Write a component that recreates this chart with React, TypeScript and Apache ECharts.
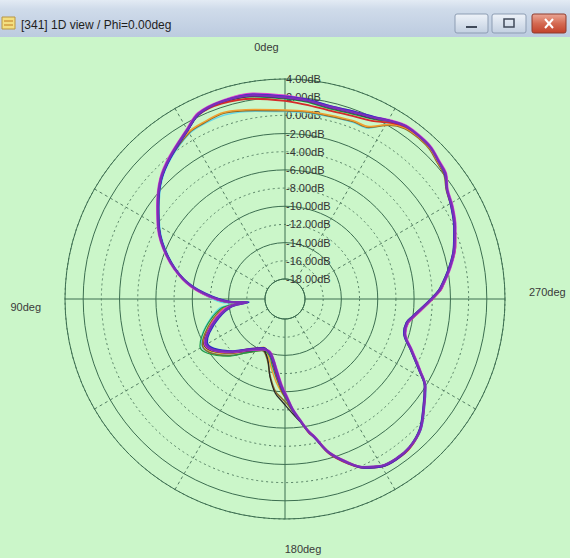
import React, { useEffect, useRef } from 'react';
import * as echarts from 'echarts';

const TITLE = '[341] 1D view / Phi=0.00deg';
const DB_MIN = -18;
const DB_MAX = 4;
const DB_STEP = 2;
const ANGLE_STEP = 30;
const ANGLE_LABELS = [0, 90, 180, 270];

const ANGLES = [0, 9, 18, 25, 30, 39, 46, 54, 61, 70, 79, 86, 93, 95, 98, 106, 114, 119, 125, 135, 145, 156, 164, 169, 174, 178, 181, 184, 187, 190, 192, 196, 201, 205, 210, 215, 220, 226, 232, 238, 242, 248, 254, 259, 262, 268, 272, 274, 281, 287, 293, 299, 304, 308, 312, 316, 320, 325, 329, 334, 339, 347, 354, 360];

const PURPLE = [2.0, 2.5, 2.6, 2.3, 1.3, -0.1, -1.2, -2.9, -4.3, -6.4, -8.8, -11.2, -14.1, -16.0, -14.1, -12.4, -10.9, -10.2, -10.5, -12.0, -13.4, -14.2, -14.1, -13.4, -12.0, -10.5, -9.4, -8.0, -6.8, -5.4, -4.7, -2.6, -0.9, 0.2, 1.0, 1.2, 1.1, 0.5, -0.8, -2.0, -3.4, -5.2, -6.5, -6.5, -6.0, -4.6, -3.5, -3.0, -1.7, -0.7, 0.1, 0.8, 1.3, 2.2, 2.5, 2.9, 3.0, 3.0, 2.6, 2.0, 1.7, 1.5, 1.8, 2.0];
const BLUE = [2.1, 2.6, 2.6, 2.2, 1.2, -0.2, -1.3, -3.0, -4.4, -6.5, -8.9, -11.4, -14.3, -16.2, -14.3, -12.6, -11.1, -10.4, -10.7, -12.1, -13.5, -14.3, -14.0, -13.2, -11.8, -10.3, -9.3, -7.9, -6.7, -5.4, -4.6, -2.6, -0.9, 0.3, 1.1, 1.3, 1.1, 0.4, -0.9, -2.1, -3.5, -5.3, -6.6, -6.6, -6.1, -4.7, -3.6, -3.1, -1.8, -0.8, 0.0, 0.7, 1.3, 2.1, 2.5, 2.9, 3.0, 3.0, 2.6, 2.1, 1.8, 1.6, 1.9, 2.1];
const MAGENTA = [2.2, 2.7, 2.7, 2.4, 1.4, 0.0, -1.1, -2.8, -4.2, -6.3, -8.7, -11.0, -13.9, -15.6, -13.8, -12.2, -10.8, -10.1, -10.4, -11.9, -13.3, -14.1, -14.2, -13.5, -12.2, -10.7, -9.6, -8.1, -6.9, -5.5, -4.8, -2.7, -1.0, 0.2, 1.0, 1.2, 1.1, 0.5, -0.8, -2.0, -3.3, -5.1, -6.4, -6.4, -5.9, -4.5, -3.4, -2.9, -1.6, -0.6, 0.2, 0.9, 1.4, 2.3, 2.6, 3.0, 3.1, 3.1, 2.7, 2.1, 1.8, 1.6, 1.9, 2.2];
const RED = [1.6, 2.1, 2.4, 2.2, 1.3, -0.1, -1.2, -2.9, -4.3, -6.4, -8.8, -11.1, -14.0, -15.8, -14.0, -12.4, -10.9, -10.2, -10.5, -12.0, -13.5, -14.3, -14.0, -13.1, -11.6, -10.2, -9.2, -7.9, -6.7, -5.3, -4.6, -2.5, -0.8, 0.3, 1.1, 1.3, 1.2, 0.5, -0.8, -2.0, -3.4, -5.2, -6.5, -6.4, -5.9, -4.5, -3.4, -2.9, -1.7, -0.6, 0.1, 0.8, 1.3, 2.2, 2.5, 2.9, 3.0, 2.9, 2.4, 1.6, 1.3, 1.1, 1.3, 1.6];
const ORANGE = [0.6, 0.9, 1.4, 1.2, 1.0, -0.1, -1.2, -2.9, -4.3, -6.4, -8.7, -11.0, -13.8, -15.4, -13.6, -12.1, -10.7, -10.0, -10.2, -11.7, -13.3, -14.4, -13.6, -12.4, -11.0, -9.9, -9.1, -7.9, -6.8, -5.4, -4.7, -2.6, -0.9, 0.2, 1.0, 1.2, 1.1, 0.5, -0.8, -2.0, -3.4, -5.2, -6.5, -6.5, -6.0, -4.6, -3.5, -3.0, -1.7, -0.7, 0.1, 0.8, 1.3, 2.1, 2.4, 2.8, 2.9, 2.8, 2.2, 0.9, 0.8, 0.6, 0.6, 0.6];
const OLIVE = [0.5, 0.8, 1.3, 1.1, 0.9, -0.2, -1.3, -3.0, -4.4, -6.5, -8.8, -11.2, -14.0, -15.2, -13.4, -11.9, -10.5, -9.8, -10.0, -11.4, -13.0, -14.0, -13.2, -11.6, -10.0, -9.3, -8.7, -7.8, -6.8, -5.5, -4.8, -2.7, -1.0, 0.2, 1.0, 1.2, 1.1, 0.4, -0.9, -2.1, -3.5, -5.3, -6.6, -6.6, -6.1, -4.7, -3.6, -3.1, -1.8, -0.8, 0.0, 0.7, 1.2, 2.0, 2.3, 2.7, 2.8, 2.7, 2.1, 0.8, 0.7, 0.5, 0.5, 0.5];
const CYAN = [0.4, 0.7, 1.1, 1.0, 0.8, -0.3, -1.4, -3.1, -4.5, -6.6, -8.8, -11.0, -13.2, -14.6, -12.9, -11.5, -10.2, -9.7, -10.0, -11.5, -13.2, -14.0, -13.5, -12.6, -11.3, -10.1, -9.2, -7.9, -6.7, -5.3, -4.6, -2.5, -0.8, 0.3, 1.1, 1.3, 1.2, 0.6, -0.7, -1.9, -3.3, -5.1, -6.4, -6.4, -5.9, -4.5, -3.4, -2.9, -1.6, -0.6, 0.2, 0.9, 1.4, 2.2, 2.6, 3.0, 3.1, 3.0, 2.3, 0.7, 0.6, 0.4, 0.4, 0.4];
const GREEN = [1.8, 2.3, 2.5, 2.2, 1.2, -0.2, -1.3, -3.0, -4.4, -6.5, -8.8, -11.1, -13.6, -15.0, -13.2, -11.6, -10.2, -9.5, -9.8, -11.3, -13.0, -14.0, -13.8, -12.8, -11.4, -10.0, -9.0, -7.8, -6.7, -5.4, -4.7, -2.6, -0.9, 0.2, 1.0, 1.2, 1.1, 0.5, -0.8, -2.0, -3.4, -5.2, -6.5, -6.5, -6.0, -4.6, -3.5, -3.0, -1.7, -0.7, 0.1, 0.8, 1.3, 2.2, 2.5, 2.9, 3.0, 3.0, 2.5, 1.8, 1.5, 1.3, 1.6, 1.8];
const BLACK = [1.9, 2.4, 2.5, 2.2, 1.2, -0.1, -1.2, -2.9, -4.3, -6.4, -8.8, -11.2, -14.0, -15.6, -13.8, -12.2, -10.7, -10.0, -10.3, -11.8, -13.2, -14.1, -13.3, -11.5, -9.8, -9.0, -8.3, -7.5, -6.6, -5.4, -4.7, -2.6, -0.9, 0.2, 1.0, 1.2, 1.1, 0.5, -0.8, -2.0, -3.4, -5.2, -6.5, -6.5, -6.0, -4.6, -3.5, -3.0, -1.7, -0.7, 0.1, 0.8, 1.3, 2.2, 2.5, 2.9, 3.0, 3.0, 2.6, 1.9, 1.6, 1.4, 1.7, 1.9];

const SERIES = [
  { name: 'cyan', values: CYAN, color: '#5fd8ee', width: 1.2 },
  { name: 'olive', values: OLIVE, color: '#8a6b2c', width: 1.5 },
  { name: 'orange', values: ORANGE, color: '#f0a030', width: 1.5 },
  { name: 'green', values: GREEN, color: '#1f9a4a', width: 1.2 },
  { name: 'black', values: BLACK, color: '#262626', width: 1.2 },
  { name: 'red', values: RED, color: '#d42a2a', width: 1.8 },
  { name: 'magenta', values: MAGENTA, color: '#e040d0', width: 1.8 },
  { name: 'blue', values: BLUE, color: '#2b2bc8', width: 1.8 },
  { name: 'purple', values: PURPLE, color: '#7a2fb8', width: 2.4 },
];

const BG = '#cbf6c9';
const GRID = '#3c6e50';
const GRID_DASH = '#557f63';
const FONT = 'Liberation Sans, Arial, sans-serif';

export default function App() {
  const ref = useRef<HTMLDivElement>(null);
  useEffect(() => {
    if (!ref.current) return;
    const chart = echarts.init(ref.current, null, { renderer: 'svg' });
    const polarBox = { center: [285, 299], radius: [20, 220] };
    const angleBase = {
      type: 'value', min: 0, max: 360, interval: ANGLE_STEP, startAngle: 90, clockwise: false,
      axisTick: { show: false },
    };
    const radiusBase = {
      type: 'value', min: DB_MIN, max: DB_MAX, interval: DB_STEP,
      axisLine: { show: false }, axisTick: { show: false },
    };
    const option: any = {
      animation: false,
      backgroundColor: BG,
      polar: [polarBox, polarBox],
      angleAxis: [
        {
          ...angleBase, polarIndex: 0,
          axisLine: { show: true, lineStyle: { color: GRID, width: 1 } },
          axisLabel: {
            show: true, margin: 24, color: '#3a3a3a', fontSize: 11, fontFamily: FONT,
            formatter: (v: number) => (ANGLE_LABELS.indexOf(v) >= 0 ? `{a${v}|${v}deg}` : ''),
            rich: {
              a0: { fontSize: 11, fontFamily: FONT, color: '#3a3a3a', padding: [0, 37, 3, 0] },
              a90: { fontSize: 11, fontFamily: FONT, color: '#3a3a3a', padding: [16, 0, 0, 0] },
              a180: { fontSize: 11, fontFamily: FONT, color: '#3a3a3a', padding: [0, 0, 0, 36] },
              a270: { fontSize: 11, fontFamily: FONT, color: '#3a3a3a', padding: [0, 0, 14, 0] },
            },
          },
          splitLine: { show: true, lineStyle: { color: [GRID, 'transparent', 'transparent'], width: 1 } },
        },
        {
          ...angleBase, polarIndex: 1,
          axisLine: { show: false }, axisLabel: { show: false },
          splitLine: { show: true, lineStyle: { color: ['transparent', GRID_DASH, GRID_DASH], width: 1, type: [3, 3] } },
        },
      ],
      radiusAxis: [
        {
          ...radiusBase, polarIndex: 0,
          axisLabel: {
            show: true, margin: -1, align: 'left', verticalAlign: 'middle', padding: [0, 0, 6, 0],
            color: '#333', fontSize: 11, fontFamily: FONT,
            formatter: (v: number) => `${v.toFixed(2)}dB`,
          },
          splitLine: { show: true, lineStyle: { color: [GRID, 'transparent'], width: 1 } },
        },
        {
          ...radiusBase, polarIndex: 1,
          axisLabel: { show: false },
          splitLine: { show: true, lineStyle: { color: ['transparent', GRID_DASH], width: 1, type: [2, 3] } },
        },
      ],
      series: SERIES.map((s) => ({
        name: s.name,
        type: 'line',
        coordinateSystem: 'polar',
        polarIndex: 0,
        showSymbol: false,
        smooth: 0.35,
        lineStyle: { color: s.color, width: s.width },
        data: ANGLES.map((a, i) => [s.values[i], a]),
      })),
      graphic: [
        {
          type: 'rect', left: 0, top: 0, z: 100,
          shape: { width: 570, height: 37 },
          style: {
            fill: new echarts.graphic.LinearGradient(0, 0, 0, 1, [
              { offset: 0, color: '#e3ebf4' },
              { offset: 0.25, color: '#cfdbea' },
              { offset: 1, color: '#bccbdf' },
            ]),
          },
        },
        {
          type: 'rect', z: 101, shape: { x: 2, y: 17, width: 13, height: 12 },
          style: { fill: '#f3df80', stroke: '#b89540', lineWidth: 1 },
        },
        { type: 'line', z: 102, shape: { x1: 4, y1: 21, x2: 13, y2: 21 }, style: { stroke: '#c07a20', lineWidth: 1 } },
        { type: 'line', z: 102, shape: { x1: 4, y1: 25, x2: 13, y2: 25 }, style: { stroke: '#c07a20', lineWidth: 1 } },
        {
          type: 'text', z: 102, x: 21, y: 25,
          style: { text: TITLE, fill: '#1e1e1e', font: `12px ${FONT}`, verticalAlign: 'middle' },
        },
        {
          type: 'rect', z: 101, shape: { x: 455, y: 14, width: 33, height: 19, r: 2 },
          style: {
            fill: new echarts.graphic.LinearGradient(0, 0, 0, 1, [
              { offset: 0, color: '#eef3f9' }, { offset: 1, color: '#c3d0e1' },
            ]),
            stroke: '#8d9db3', lineWidth: 1,
          },
        },
        { type: 'line', z: 102, shape: { x1: 466, y1: 27, x2: 477, y2: 27 }, style: { stroke: '#404a5a', lineWidth: 2 } },
        {
          type: 'rect', z: 101, shape: { x: 492, y: 14, width: 34, height: 19, r: 2 },
          style: {
            fill: new echarts.graphic.LinearGradient(0, 0, 0, 1, [
              { offset: 0, color: '#eef3f9' }, { offset: 1, color: '#c3d0e1' },
            ]),
            stroke: '#8d9db3', lineWidth: 1,
          },
        },
        { type: 'rect', z: 102, shape: { x: 504, y: 19, width: 10, height: 8 }, style: { fill: 'none', stroke: '#404a5a', lineWidth: 1.5 } },
        {
          type: 'rect', z: 101, shape: { x: 532, y: 14, width: 34, height: 19, r: 2 },
          style: {
            fill: new echarts.graphic.LinearGradient(0, 0, 0, 1, [
              { offset: 0, color: '#eba796' }, { offset: 0.5, color: '#d46a52' }, { offset: 1, color: '#c2412a' },
            ]),
            stroke: '#8e3d2f', lineWidth: 1,
          },
        },
        { type: 'line', z: 102, shape: { x1: 545, y1: 19, x2: 553, y2: 28 }, style: { stroke: '#ffffff', lineWidth: 2 } },
        { type: 'line', z: 102, shape: { x1: 553, y1: 19, x2: 545, y2: 28 }, style: { stroke: '#ffffff', lineWidth: 2 } },
      ],
    };
    chart.setOption(option);
    return () => chart.dispose();
  }, []);
  return <div ref={ref} style={{ position: 'absolute', left: 0, top: 0, width: 570, height: 558 }} />;
}
